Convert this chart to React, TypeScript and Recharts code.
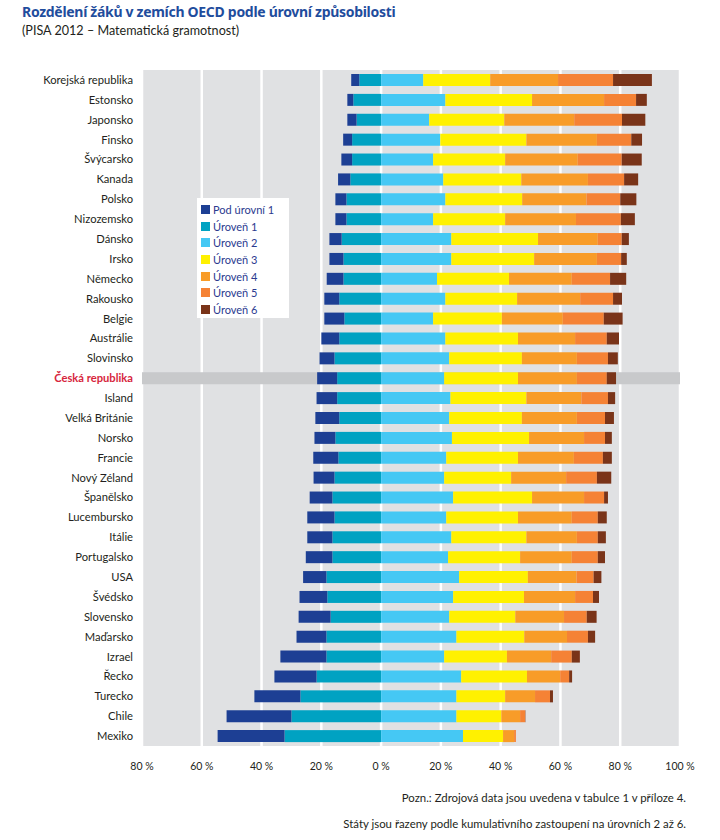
import { BarChart, Bar, XAxis, YAxis, CartesianGrid } from 'recharts';

const countries = [
  'Korejská republika', 'Estonsko', 'Japonsko', 'Finsko', 'Švýcarsko', 'Kanada', 'Polsko',
  'Nizozemsko', 'Dánsko', 'Irsko', 'Německo', 'Rakousko', 'Belgie', 'Austrálie', 'Slovinsko',
  'Česká republika', 'Island', 'Velká Británie', 'Norsko', 'Francie', 'Nový Zéland', 'Španělsko',
  'Lucembursko', 'Itálie', 'Portugalsko', 'USA', 'Švédsko', 'Slovensko', 'Maďarsko', 'Izrael',
  'Řecko', 'Turecko', 'Chile', 'Mexiko',
];

// podíly žáků v % (pod úrovní 1 a úroveň 1 se kreslí doleva)
const belowLevel1 = [2.7, 2.0, 3.1, 3.0, 3.6, 4.1, 3.7, 3.7, 4.1, 4.7, 5.6, 5.0, 6.7, 6.0, 5.0, 6.7, 6.9, 8.0, 7.0, 8.4, 7.0, 7.6, 9.1, 8.4, 8.9, 7.8, 9.3, 10.7, 10.0, 15.4, 14.1, 15.4, 21.7, 22.4];
const level1 = [7.3, 9.3, 8.2, 9.7, 9.7, 10.3, 11.6, 11.6, 13.2, 12.6, 12.6, 14.0, 12.3, 14.0, 15.6, 14.7, 14.7, 14.0, 15.3, 14.3, 15.6, 16.3, 15.6, 16.3, 16.3, 18.3, 18.0, 16.9, 18.3, 18.3, 21.6, 27.0, 30.0, 32.3];
const level2 = [14.1, 21.5, 16.1, 19.8, 17.4, 20.8, 21.5, 17.4, 23.5, 23.5, 18.7, 21.5, 17.4, 21.5, 22.8, 21.1, 23.2, 22.8, 23.7, 21.8, 21.1, 24.1, 21.8, 23.5, 22.4, 26.1, 24.1, 22.8, 25.2, 21.1, 26.8, 25.2, 25.2, 27.4];
const level3 = [22.4, 29.0, 25.1, 28.8, 24.1, 26.1, 25.7, 24.1, 29.0, 27.7, 24.1, 24.0, 23.0, 24.3, 24.3, 24.7, 25.4, 24.3, 25.8, 24.0, 22.4, 26.4, 24.0, 25.1, 24.1, 23.0, 23.7, 22.1, 22.7, 21.0, 22.0, 16.3, 15.0, 13.4];
const level4 = [22.7, 24.1, 23.4, 23.6, 24.3, 22.3, 21.5, 23.7, 20.0, 21.0, 21.0, 21.1, 20.4, 19.1, 18.4, 19.7, 18.4, 18.4, 18.4, 18.7, 18.4, 17.4, 18.0, 16.9, 17.3, 16.3, 17.1, 16.3, 14.3, 14.8, 11.1, 10.0, 6.3, 3.7];
const level5 = [18.4, 10.7, 16.0, 11.5, 14.7, 12.1, 11.3, 15.0, 8.0, 8.1, 12.8, 11.0, 13.7, 10.6, 10.4, 10.0, 8.9, 9.4, 7.0, 9.7, 10.3, 6.7, 8.7, 7.0, 8.7, 5.7, 6.0, 7.6, 7.0, 6.9, 3.0, 5.0, 1.7, 0.6];
const level6 = [13.0, 3.6, 7.8, 3.6, 6.7, 4.7, 5.4, 4.7, 2.4, 1.9, 5.4, 3.0, 6.3, 4.1, 3.3, 3.1, 2.4, 3.0, 2.3, 3.0, 4.8, 1.3, 3.0, 2.7, 2.4, 2.6, 2.0, 3.3, 2.4, 2.7, 1.0, 1.0, 0.1, 0.0];

const xTicks = [-80, -60, -40, -20, 0, 20, 40, 60, 80, 100];
const HIGHLIGHT = 'Česká republika';

const SERIES = [
  { key: 'pod1', name: 'Pod úrovní 1', color: '#1d3f94' },
  { key: 'u1', name: 'Úroveň 1', color: '#00a2c2' },
  { key: 'u2', name: 'Úroveň 2', color: '#45c8f4' },
  { key: 'u3', name: 'Úroveň 3', color: '#fff100' },
  { key: 'u4', name: 'Úroveň 4', color: '#f89c28' },
  { key: 'u5', name: 'Úroveň 5', color: '#f58235' },
  { key: 'u6', name: 'Úroveň 6', color: '#7a3419' },
];
const colorOf = (k: string) => SERIES.find((s) => s.key === k)!.color;

const data = countries.map((country, i) => ({
  country,
  pod1: -belowLevel1[i],
  u1: -level1[i],
  u2: level2[i],
  u3: level3[i],
  u4: level4[i],
  u5: level5[i],
  u6: level6[i],
}));

const FONT = 'Lato, "Noto Sans", sans-serif';
const TEXT = '#231f20';

const CountryTick = ({ x, y, payload }: any) => {
  const cz = payload.value === HIGHLIGHT;
  return (
    <text
      x={x}
      y={y}
      dy={4}
      textAnchor="end"
      fontSize={11.2}
      fontFamily={FONT}
      fontWeight={cz ? 700 : 400}
      fill={cz ? '#d7263d' : TEXT}
    >
      {payload.value}
    </text>
  );
};

// první řada kreslí i šedý pruh zvýrazněné země pod ostatními segmenty
const FirstShape = (props: any) => {
  const { x, y, width, height, fill, payload, background } = props;
  const w = Math.abs(width);
  const left = width < 0 ? x + width : x;
  return (
    <g>
      {payload && payload.country === HIGHLIGHT && background && (
        <rect x={background.x} y={y} width={background.width} height={height} fill="#c8c9cb" />
      )}
      <rect x={left} y={y} width={w} height={height} fill={fill} />
    </g>
  );
};

export default function App() {
  return (
    <div style={{ position: 'absolute', left: 0, top: 0, width: 720, height: 840, background: '#fff', fontFamily: FONT }}>
      <div style={{ position: 'absolute', left: 22, top: 2, fontSize: 14, fontWeight: 700, color: '#1f4d9d', fontFamily: '"Noto Sans", sans-serif', letterSpacing: -0.3 }}>
        Rozdělení žáků v zemích OECD podle úrovní způsobilosti
      </div>
      <div style={{ position: 'absolute', left: 22, top: 23, fontSize: 12.6, color: TEXT }}>
        (PISA 2012 – Matematická gramotnost)
      </div>

      <div style={{ position: 'absolute', left: 0, top: 0 }}>
        <BarChart
          width={720}
          height={790}
          data={data}
          layout="vertical"
          stackOffset="sign"
          barSize={12}
          margin={{ top: 70, right: 40, bottom: 14, left: 0 }}
        >
          <CartesianGrid horizontal={false} stroke="#ffffff" strokeWidth={2.5} fill="#e0e1e3" fillOpacity={1} />
          <XAxis
            type="number"
            domain={[-80, 100]}
            ticks={xTicks}
            height={30}
            axisLine={false}
            tickLine={false}
            tickSize={0}
            tickMargin={17}
            tickFormatter={(v: number) => `${Math.abs(v)} %`}
            tick={{ fontSize: 10.5, fill: TEXT, fontFamily: FONT }}
            interval={0}
          />
          <YAxis
            type="category"
            dataKey="country"
            width={142}
            axisLine={false}
            tickLine={false}
            tickSize={0}
            tickMargin={9}
            interval={0}
            tick={<CountryTick />}
          />
          <Bar dataKey="u1" stackId="a" fill={colorOf('u1')} shape={<FirstShape />} isAnimationActive={false} />
          <Bar dataKey="pod1" stackId="a" fill={colorOf('pod1')} isAnimationActive={false} />
          <Bar dataKey="u2" stackId="a" fill={colorOf('u2')} isAnimationActive={false} />
          <Bar dataKey="u3" stackId="a" fill={colorOf('u3')} isAnimationActive={false} />
          <Bar dataKey="u4" stackId="a" fill={colorOf('u4')} isAnimationActive={false} />
          <Bar dataKey="u5" stackId="a" fill={colorOf('u5')} isAnimationActive={false} />
          <Bar dataKey="u6" stackId="a" fill={colorOf('u6')} isAnimationActive={false} />
        </BarChart>
      </div>

      <div style={{ position: 'absolute', left: 197, top: 198, width: 92, height: 120, background: '#fff', boxSizing: 'border-box', padding: '3px 0 0 4px' }}>
        {SERIES.map((s) => (
          <div key={s.key} style={{ display: 'flex', alignItems: 'center', height: 16.7 }}>
            <span style={{ width: 9, height: 9, background: s.color, marginRight: 3, display: 'inline-block' }} />
            <span style={{ fontSize: 11, color: '#2b3a8f' }}>{s.name}</span>
          </div>
        ))}
      </div>

      <div style={{ position: 'absolute', right: 34, top: 785, fontSize: 11.4, color: TEXT, textAlign: 'right', lineHeight: '26px' }}>
        <div>Pozn.: Zdrojová data jsou uvedena v tabulce 1 v příloze 4.</div>
        <div>Státy jsou řazeny podle kumulativního zastoupení na úrovních 2 až 6.</div>
      </div>
    </div>
  );
}
